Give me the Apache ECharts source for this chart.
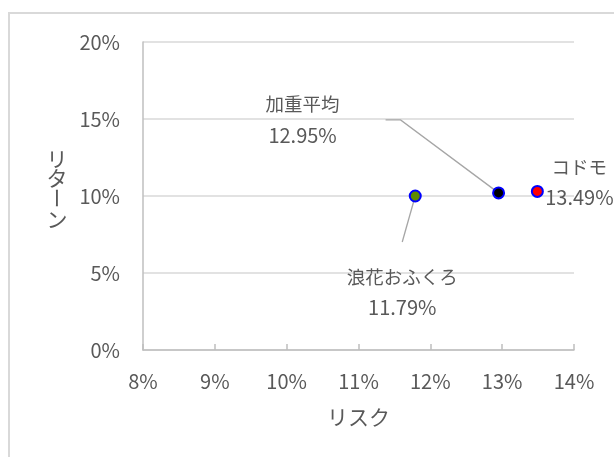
<!DOCTYPE html>
<html><head><meta charset="utf-8">
<script src="https://cdn.jsdelivr.net/npm/echarts@6/dist/echarts.min.js"></script>
<style>html,body{margin:0;padding:0;background:#fff}#c{width:614px;height:457px}</style>
</head><body><div id="c"></div>
<script>
// ---- data ----
const names = ['浪花おふくろ', '加重平均', 'コドモ'];
const risk = [11.79, 12.95, 13.49];   // x (%)
const ret = [10.0, 10.2, 10.3];       // y (%)
const xMin = 8, xMax = 14, xStep = 1;
const yMin = 0, yMax = 20, yStep = 5;
const xAxisTitle = 'リスク';
const yAxisTitleChars = ['リ', 'タ', 'ー', 'ン'];

// ---- styles ----
const FONT = '"Noto Sans CJK JP", "Noto Sans", sans-serif';
const TXT = '#595959';
const pointFill = ['#5f8b00', '#000000', '#ff0000'];
const labelCfg = [
  { offset: [-13, 96], lineHeight: 30, padding: [20, 0], line: true, length2: 0 },
  { offset: [-196, -73], lineHeight: 31, padding: [0, 46], line: true, length2: 15 },
  { offset: [42, -9], lineHeight: 30, padding: 0, line: false, length2: 0 }
];

const series = names.map((n, i) => ({
  type: 'scatter',
  name: n,
  data: [[risk[i], ret[i]]],
  symbol: 'circle',
  symbolSize: 11,
  itemStyle: { color: pointFill[i], borderColor: '#0000ff', borderWidth: 2, opacity: 1 },
  label: {
    show: true,
    position: 'inside',
    offset: labelCfg[i].offset,
    formatter: '{n|' + n + '}\n{v|' + risk[i].toFixed(2) + '%}',
    color: TXT,
    fontSize: 18.5,
    fontFamily: FONT,
    lineHeight: labelCfg[i].lineHeight,
    padding: labelCfg[i].padding,
    backgroundColor: 'transparent',
    align: 'center',
    verticalAlign: 'middle',
    rich: {
      n: { color: TXT, fontSize: 18.5, fontFamily: FONT, lineHeight: labelCfg[i].lineHeight },
      v: { color: TXT, fontSize: 20, fontFamily: FONT, lineHeight: labelCfg[i].lineHeight }
    }
  },
  labelLine: {
    show: labelCfg[i].line,
    length2: labelCfg[i].length2,
    smooth: false,
    lineStyle: { color: '#a6a6a6', width: 1.3 }
  },
  z: 5 - i
}));

const yNameGraphics = yAxisTitleChars.map((ch, i) => ({
  type: 'text',
  x: 57,
  y: [159, 178, 198, 219][i],
  rotation: ch === 'ー' ? -Math.PI / 2 : 0,
  style: { text: ch, font: '21px ' + FONT, fill: TXT, align: 'center', verticalAlign: 'middle' }
}));

const chart = echarts.init(document.getElementById('c'), null, { renderer: 'canvas' });
chart.setOption({
  animation: false,
  backgroundColor: '#ffffff',
  grid: { left: 143, right: 40, top: 42, bottom: 107, outerBoundsMode: 'none', containLabel: false },
  xAxis: {
    type: 'value', min: xMin, max: xMax, interval: xStep,
    name: xAxisTitle, nameLocation: 'middle', nameGap: 57,
    nameTextStyle: { color: TXT, fontSize: 21, fontFamily: FONT },
    axisLine: { show: true, lineStyle: { color: '#bfbfbf', width: 1.5 } },
    axisTick: { show: true, inside: true, length: 6, lineStyle: { color: '#bfbfbf', width: 1.5 } },
    axisLabel: { formatter: '{value}%', color: TXT, fontSize: 20, fontFamily: FONT, margin: 21 },
    splitLine: { show: false }
  },
  yAxis: {
    type: 'value', min: yMin, max: yMax, interval: yStep,
    axisLine: { show: true, lineStyle: { color: '#bfbfbf', width: 1.5 } },
    axisTick: { show: false },
    axisLabel: { formatter: '{value}%', color: TXT, fontSize: 20, fontFamily: FONT, margin: 23 },
    splitLine: { show: true, lineStyle: { color: '#d9d9d9', width: 1.5 } }
  },
  graphic: [
    { type: 'rect', shape: { x: 9, y: 13, width: 700, height: 600 }, style: { fill: 'none', stroke: '#d9d9d9', lineWidth: 2 }, silent: true, z: -10 },
    ...yNameGraphics
  ],
  series: series
});
</script></body></html>
